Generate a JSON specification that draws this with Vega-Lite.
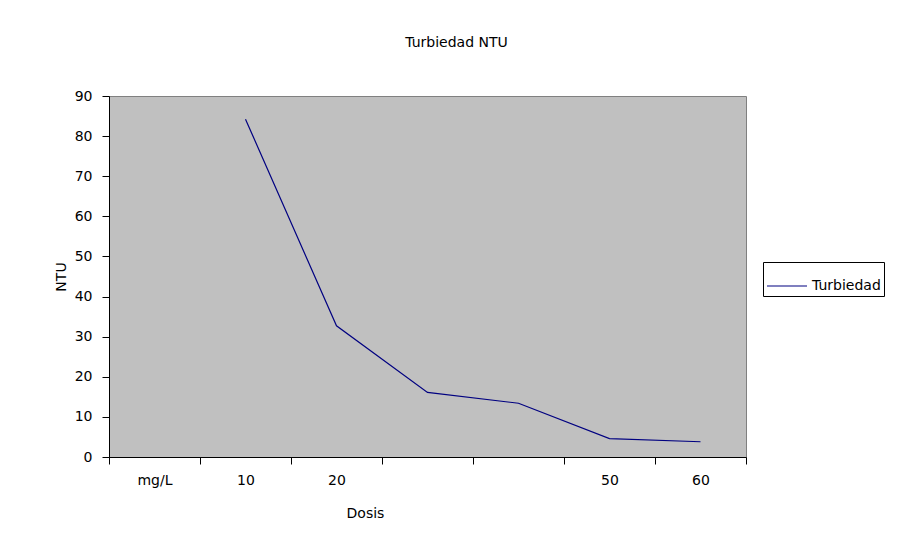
{
  "$schema": "https://vega.github.io/schema/vega-lite/v6.json",
  "width": 637,
  "height": 361,
  "autosize": {"type": "none"},
  "padding": {"left": 109, "top": 96, "right": 159, "bottom": 82},
  "background": "white",
  "config": {
    "font": "DejaVu Sans",
    "view": {"fill": "#C0C0C0", "stroke": "#808080", "strokeWidth": 1}
  },
  "title": {
    "text": "Turbiedad NTU",
    "fontSize": 14,
    "fontWeight": "normal",
    "color": "black",
    "anchor": "middle",
    "dx": 29,
    "offset": 39
  },
  "data": {
    "values": [
      {"Dosis": "mg/L", "NTU": null, "Serie": "Turbiedad"},
      {"Dosis": "10", "NTU": 84.2, "Serie": "Turbiedad"},
      {"Dosis": "20", "NTU": 32.7, "Serie": "Turbiedad"},
      {"Dosis": "30", "NTU": 16.1, "Serie": "Turbiedad"},
      {"Dosis": "40", "NTU": 13.4, "Serie": "Turbiedad"},
      {"Dosis": "50", "NTU": 4.6, "Serie": "Turbiedad"},
      {"Dosis": "60", "NTU": 3.8, "Serie": "Turbiedad"}
    ]
  },
  "mark": {"type": "line", "strokeWidth": 1.2},
  "encoding": {
    "x": {
      "field": "Dosis",
      "type": "ordinal",
      "sort": null,
      "scale": {"type": "band", "domain": ["mg/L", "10", "20", "30", "40", "50", "60"], "paddingInner": 0, "paddingOuter": 0},
      "axis": {
        "title": "Dosis",
        "titleFontSize": 14,
        "titleFontWeight": "normal",
        "titleColor": "black",
        "titlePadding": 19,
        "titleX": 256,
        "labelAngle": 0,
        "labelFontSize": 14,
        "labelColor": "black",
        "labelPadding": 9,
        "labelExpr": "datum.value == '30' || datum.value == '40' ? '' : datum.value",
        "tickBand": "extent",
        "tickSize": 7,
        "tickColor": "black",
        "domainColor": "black",
        "grid": false
      }
    },
    "y": {
      "field": "NTU",
      "type": "quantitative",
      "scale": {"domain": [0, 90], "nice": false},
      "axis": {
        "title": "NTU",
        "titleFontSize": 14,
        "titleFontWeight": "normal",
        "titleColor": "black",
        "titlePadding": 6,
        "values": [0, 10, 20, 30, 40, 50, 60, 70, 80, 90],
        "labelFontSize": 14,
        "labelColor": "black",
        "labelPadding": 10,
        "tickSize": 7,
        "tickColor": "black",
        "domainColor": "black",
        "grid": false
      }
    },
    "color": {
      "field": "Serie",
      "type": "nominal",
      "scale": {"range": ["#000080"]},
      "legend": {
        "title": null,
        "orient": "none",
        "legendX": 654,
        "legendY": 166,
        "strokeColor": "black",
        "padding": 3,
        "symbolType": "stroke",
        "symbolSize": 1600,
        "symbolStrokeWidth": 1.2,
        "labelFontSize": 14,
        "labelColor": "black"
      }
    }
  }
}
